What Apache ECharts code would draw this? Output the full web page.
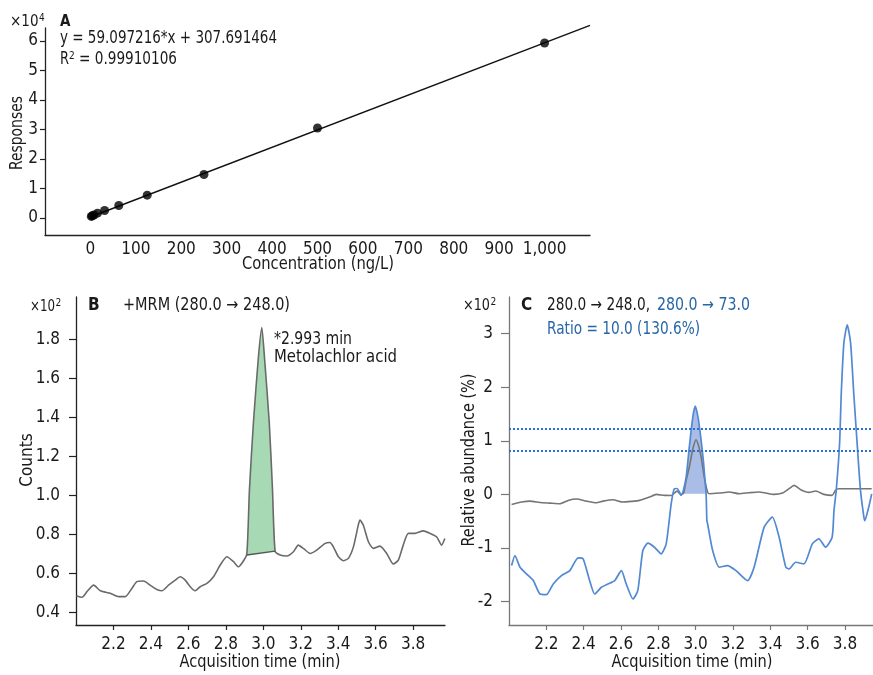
<!DOCTYPE html>
<html>
<head>
<meta charset="utf-8">
<script src="https://cdn.jsdelivr.net/npm/echarts@6/dist/echarts.min.js"></script>
<style>
html,body{margin:0;padding:0;background:#fff;}
#chart{width:873px;height:675px;}
</style>
</head>
<body>
<div id="chart"></div>
<script>
// ---------- Panel A: calibration ----------
const concValues = [1.95, 3.9, 7.8, 15.6, 31.25, 62.5, 125, 250, 500, 1000];
const respValues = [500, 700, 1000, 1600, 2500, 4200, 7700, 14700, 30500, 59300];
const fitConc = [0, 1100];
const fitResp = [310, 65310];
const concTicks = [0, 100, 200, 300, 400, 500, 600, 700, 800, 900, 1000];
const respTicks = [0, 10000, 20000, 30000, 40000, 50000, 60000];

// ---------- Panel B: MRM 280 -> 248 ----------
const bTime = [2.002,2.032,2.062,2.094,2.130,2.183,2.227,2.263,2.299,2.325,2.361,2.396,2.432,2.459,2.494,2.530,2.556,2.583,2.610,2.636,2.663,2.699,2.734,2.770,2.805,2.841,2.867,2.891,
  2.912,2.926,2.947,2.974,2.992,3.006,3.032,3.049,3.063,
  3.090,3.125,3.161,3.187,3.214,3.250,3.285,3.330,3.356,3.374,3.401,3.427,3.454,3.481,3.507,3.516,3.534,3.561,3.587,3.623,3.659,3.694,3.721,3.747,3.774,3.810,3.854,3.890,3.925,3.952,3.969];
const bCounts = [0.487,0.479,0.512,0.541,0.512,0.499,0.482,0.482,0.525,0.559,0.562,0.541,0.519,0.512,0.541,0.567,0.584,0.567,0.533,0.512,0.533,0.550,0.584,0.644,0.686,0.661,0.635,0.661,
  0.700,1.03,1.37,1.71,1.86,1.71,1.37,1.03,0.715,
  0.695,0.690,0.712,0.746,0.729,0.703,0.720,0.755,0.759,0.737,0.686,0.666,0.678,0.737,0.848,0.874,0.848,0.763,0.729,0.741,0.703,0.649,0.669,0.746,0.806,0.806,0.819,0.806,0.789,0.746,0.780];
const bFillTime = [2.912,2.926,2.947,2.974,2.992,3.006,3.032,3.049,3.063,3.063,2.912];
const bFillCounts = [0.700,1.03,1.37,1.71,1.86,1.71,1.37,1.03,0.715,0.715,0.695];
const bBaseTime = [2.912, 3.063];
const bBaseCounts = [0.695, 0.715];
const timeTicks = [2.2, 2.4, 2.6, 2.8, 3.0, 3.2, 3.4, 3.6, 3.8];
const countTicks = [0.4, 0.6, 0.8, 1.0, 1.2, 1.4, 1.6, 1.8];

// ---------- Panel C: qualifier ratio ----------
const cGrayTime = [2.014,2.068,2.112,2.166,2.219,2.272,2.317,2.361,2.415,2.468,2.504,2.557,2.610,2.655,2.699,2.753,2.789,2.833,2.869,2.900,2.920,2.935,2.949,2.966,2.985,3.002,3.016,3.029,3.046,3.064,3.073,3.127,3.180,3.233,3.287,3.340,3.376,3.420,3.465,3.500,3.527,3.563,3.607,3.643,3.687,3.731,3.749,3.767,3.943];
const cGrayValues = [-0.187,-0.143,-0.125,-0.150,-0.162,-0.174,-0.112,-0.087,-0.125,-0.156,-0.125,-0.100,-0.143,-0.131,-0.112,-0.050,0.000,-0.019,-0.020,0.060,0.000,0.020,0.260,0.510,0.850,1.020,0.900,0.700,0.320,0.040,0.013,0.025,0.044,0.013,0.031,0.044,0.025,0.000,0.025,0.106,0.168,0.087,0.037,0.062,0.000,-0.019,0.075,0.106,0.106];
const cBlueTime = [2.014,2.032,2.059,2.094,2.130,2.166,2.201,2.237,2.281,2.326,2.370,2.397,2.432,2.459,2.495,2.530,2.566,2.602,2.628,2.664,2.690,2.717,2.744,2.779,2.815,2.842,2.869,2.886,2.900,2.913,2.922,2.934,
  2.949,2.966,2.985,2.998,3.012,3.025,3.041,3.050,3.056,3.060,3.064,
  3.091,3.127,3.171,3.216,3.278,3.313,3.367,3.411,3.447,3.483,3.500,3.536,3.580,3.625,3.660,3.696,3.731,3.741,3.753,3.771,3.780,3.794,3.812,3.830,3.847,3.865,3.883,3.901,3.906,3.927,3.943];
const cBlueValues = [-1.327,-1.140,-1.358,-1.483,-1.607,-1.857,-1.869,-1.670,-1.514,-1.421,-1.184,-1.203,-1.607,-1.857,-1.732,-1.670,-1.607,-1.421,-1.670,-1.950,-1.794,-1.047,-0.910,-0.985,-1.109,-0.922,-0.174,0.106,0.110,0.044,-0.020,0.075,
  0.320,0.885,1.450,1.645,1.450,1.130,0.640,0.260,0.000,-0.490,-0.548,
  -1.047,-1.358,-1.327,-1.421,-1.607,-1.358,-0.611,-0.424,-0.798,-1.358,-1.389,-1.265,-1.296,-0.922,-0.829,-0.985,-0.798,-0.300,0.075,0.950,1.880,2.820,3.159,2.820,1.880,0.950,0.075,-0.420,-0.490,-0.240,0.010];
const cFillTime = [2.934,2.949,2.966,2.985,2.998,3.012,3.025,3.041,3.050,3.056,3.056,2.934];
const cFillValues = [0.075,0.320,0.885,1.450,1.645,1.450,1.130,0.640,0.260,0.010,0.010,0.010];
const ratioLimits = [1.22, 0.81];
const abundTicks = [-2, -1, 0, 1, 2, 3];

// ---------- helpers ----------
const FONT = "'Liberation Sans Narrow','DejaVu Sans Condensed','Roboto Condensed',sans-serif";
const BLUE_TXT = '#2767a8';
const zip = (a, b) => a.map((v, i) => [v, b[i]]);
const mctx = document.createElement('canvas').getContext('2d');
function measure(text, size, bold) {
  mctx.font = (bold ? 'bold ' : '') + size + 'px ' + FONT;
  return mctx.measureText(text).width;
}

function polySeries(xi, yi, xs, ys, color) {
  return {
    type: 'custom', xAxisIndex: xi, yAxisIndex: yi, silent: true, z: 1,
    data: [[xs[0], ys[0]]],
    renderItem: function (params, api) {
      const pts = xs.map((x, i) => api.coord([x, ys[i]]));
      return { type: 'polygon', shape: { points: pts }, style: { fill: color } };
    }
  };
}

function fitScale(text, size, bold, w) {
  return w ? Math.min(1, w / measure(text, size, bold)) : 1;
}

// text element; opts.w = max rendered width (horizontal squeeze to mimic condensed face)
function txt(x, y, text, opts) {
  opts = opts || {};
  const size = opts.size || 17;
  const sx = fitScale(text, size, opts.bold, opts.w);
  return {
    type: 'text', x: x, y: y, rotation: opts.rotation || 0, scaleX: sx, z: 100,
    style: {
      text: text, fill: opts.color || '#1a1a1a',
      fontSize: size, fontFamily: FONT,
      fontWeight: opts.bold ? 'bold' : 'normal',
      textAlign: opts.align || 'left', textVerticalAlign: 'middle'
    }
  };
}

// "×10" with a superscript exponent placed right after it
function powerLabel(x, y, w, exp) {
  const sx = fitScale('×10', 15, false, w);
  const realW = measure('×10', 15, false) * sx;
  return [txt(x, y, '×10', { size: 15, w: w }), txt(x + realW + 0.5, y - 4, exp, { size: 10 })];
}

function valAxis(grid, min, max, ticks, fmt, opts) {
  opts = opts || {};
  return {
    type: 'value', gridIndex: grid, min: min, max: max,
    axisLine: { show: true, onZero: false, lineStyle: { color: opts.lineColor || '#222', width: 1.3 } },
    axisTick: { show: opts.ticks !== false, customValues: ticks, length: opts.tickLen || 5, lineStyle: { color: opts.lineColor || '#222', width: 1.2 } },
    axisLabel: { customValues: ticks, formatter: fmt, fontFamily: FONT, fontSize: 17, color: '#1a1a1a', margin: opts.margin || 5 },
    splitLine: { show: false }
  };
}

const chart = echarts.init(document.getElementById('chart'), null, { renderer: 'canvas' });

const option = {
  animation: false,
  backgroundColor: '#fff',
  grid: [
    { left: 45, top: 28, width: 545, height: 207 },
    { left: 76, top: 297, width: 369, height: 328 },
    { left: 509, top: 297, width: 364, height: 328 }
  ],
  xAxis: [
    valAxis(0, -100, 1100, concTicks, v => v.toLocaleString('en-US'), { ticks: false, margin: 6 }),
    valAxis(1, 2.0, 3.97, timeTicks, v => v.toFixed(1), { margin: 11 }),
    valAxis(2, 2.0, 3.95, timeTicks, v => v.toFixed(1), { margin: 11, lineColor: '#777' })
  ],
  yAxis: [
    valAxis(0, -5800, 64400, respTicks, v => String(v / 10000), { margin: 7 }),
    valAxis(1, 0.337, 2.016, countTicks, v => v.toFixed(1), { margin: 16, tickLen: 7 }),
    valAxis(2, -2.435, 3.68, abundTicks, v => String(v), { margin: 16, tickLen: 8, lineColor: '#777' })
  ],
  series: [
    // Panel A
    {
      type: 'line', xAxisIndex: 0, yAxisIndex: 0, data: zip(fitConc, fitResp),
      symbol: 'none', clip: false, lineStyle: { color: '#111', width: 1.4 }, z: 2
    },
    {
      type: 'scatter', xAxisIndex: 0, yAxisIndex: 0, data: zip(concValues, respValues),
      symbolSize: 9, itemStyle: { color: '#000' }, z: 3
    },
    // Panel B
    polySeries(1, 1, bFillTime, bFillCounts, '#a7d9b4'),
    {
      type: 'line', xAxisIndex: 1, yAxisIndex: 1, data: zip(bTime, bCounts),
      symbol: 'none', smooth: 0.2, lineStyle: { color: '#6a6a6a', width: 1.6 }, z: 3
    },
    {
      type: 'line', xAxisIndex: 1, yAxisIndex: 1, data: zip(bBaseTime, bBaseCounts),
      symbol: 'none', lineStyle: { color: '#555', width: 1.4 }, z: 3
    },
    // Panel C
    polySeries(2, 2, cFillTime, cFillValues, '#aabde6'),
    {
      type: 'line', xAxisIndex: 2, yAxisIndex: 2, data: zip(cGrayTime, cGrayValues),
      symbol: 'none', smooth: 0.2, lineStyle: { color: '#757575', width: 1.6 }, z: 3
    },
    {
      type: 'line', xAxisIndex: 2, yAxisIndex: 2, data: zip(cBlueTime, cBlueValues),
      symbol: 'none', smooth: 0.2, lineStyle: { color: '#5189d4', width: 1.7 }, z: 4,
      markLine: {
        silent: true, symbol: 'none', label: { show: false },
        lineStyle: { type: [2, 2], color: '#2a70c8', width: 2 },
        data: ratioLimits.map(v => ({ yAxis: v }))
      }
    }
  ],
  graphic: [].concat(
    // Panel A texts
    powerLabel(10, 22, 33, '4'),
    [
      txt(60, 22, 'A', { size: 15, bold: true }),
      txt(60, 39, 'y = 59.097216*x + 307.691464', { w: 217 }),
      txt(60, 60, 'R', { w: 9 }),
      txt(69, 56, '2', { size: 10 }),
      txt(79, 60, '= 0.99910106', { w: 98 }),
      txt(18, 133, 'Responses', { rotation: Math.PI / 2, align: 'center', w: 74 }),
      txt(318, 265, 'Concentration (ng/L)', { align: 'center', w: 152 })
    ],
    // Panel B texts
    powerLabel(30, 307, 25, '2'),
    [
      txt(88, 306, 'B', { size: 17, bold: true }),
      txt(123, 306, '+MRM (280.0 → 248.0)', { w: 167 }),
      txt(274, 340, '*2.993 min', { w: 78 }),
      txt(274, 358, 'Metolachlor acid', { w: 123 }),
      txt(28, 460, 'Counts', { rotation: Math.PI / 2, align: 'center', w: 56 }),
      txt(260, 663, 'Acquisition time (min)', { align: 'center', w: 161 })
    ],
    // Panel C texts
    powerLabel(463, 306, 27, '2'),
    [
      txt(521, 306, 'C', { size: 17, bold: true }),
      txt(547, 306, '280.0 → 248.0,', { w: 103 }),
      txt(657, 306, '280.0 → 73.0', { color: BLUE_TXT, w: 93 }),
      txt(547, 330, 'Ratio = 10.0 (130.6%)', { color: BLUE_TXT, w: 153 }),
      txt(470, 460, 'Relative abundance (%)', { rotation: Math.PI / 2, align: 'center', w: 173 }),
      txt(692, 663, 'Acquisition time (min)', { align: 'center', w: 161 })
    ]
  )
};

chart.setOption(option);
</script>
</body>
</html>
